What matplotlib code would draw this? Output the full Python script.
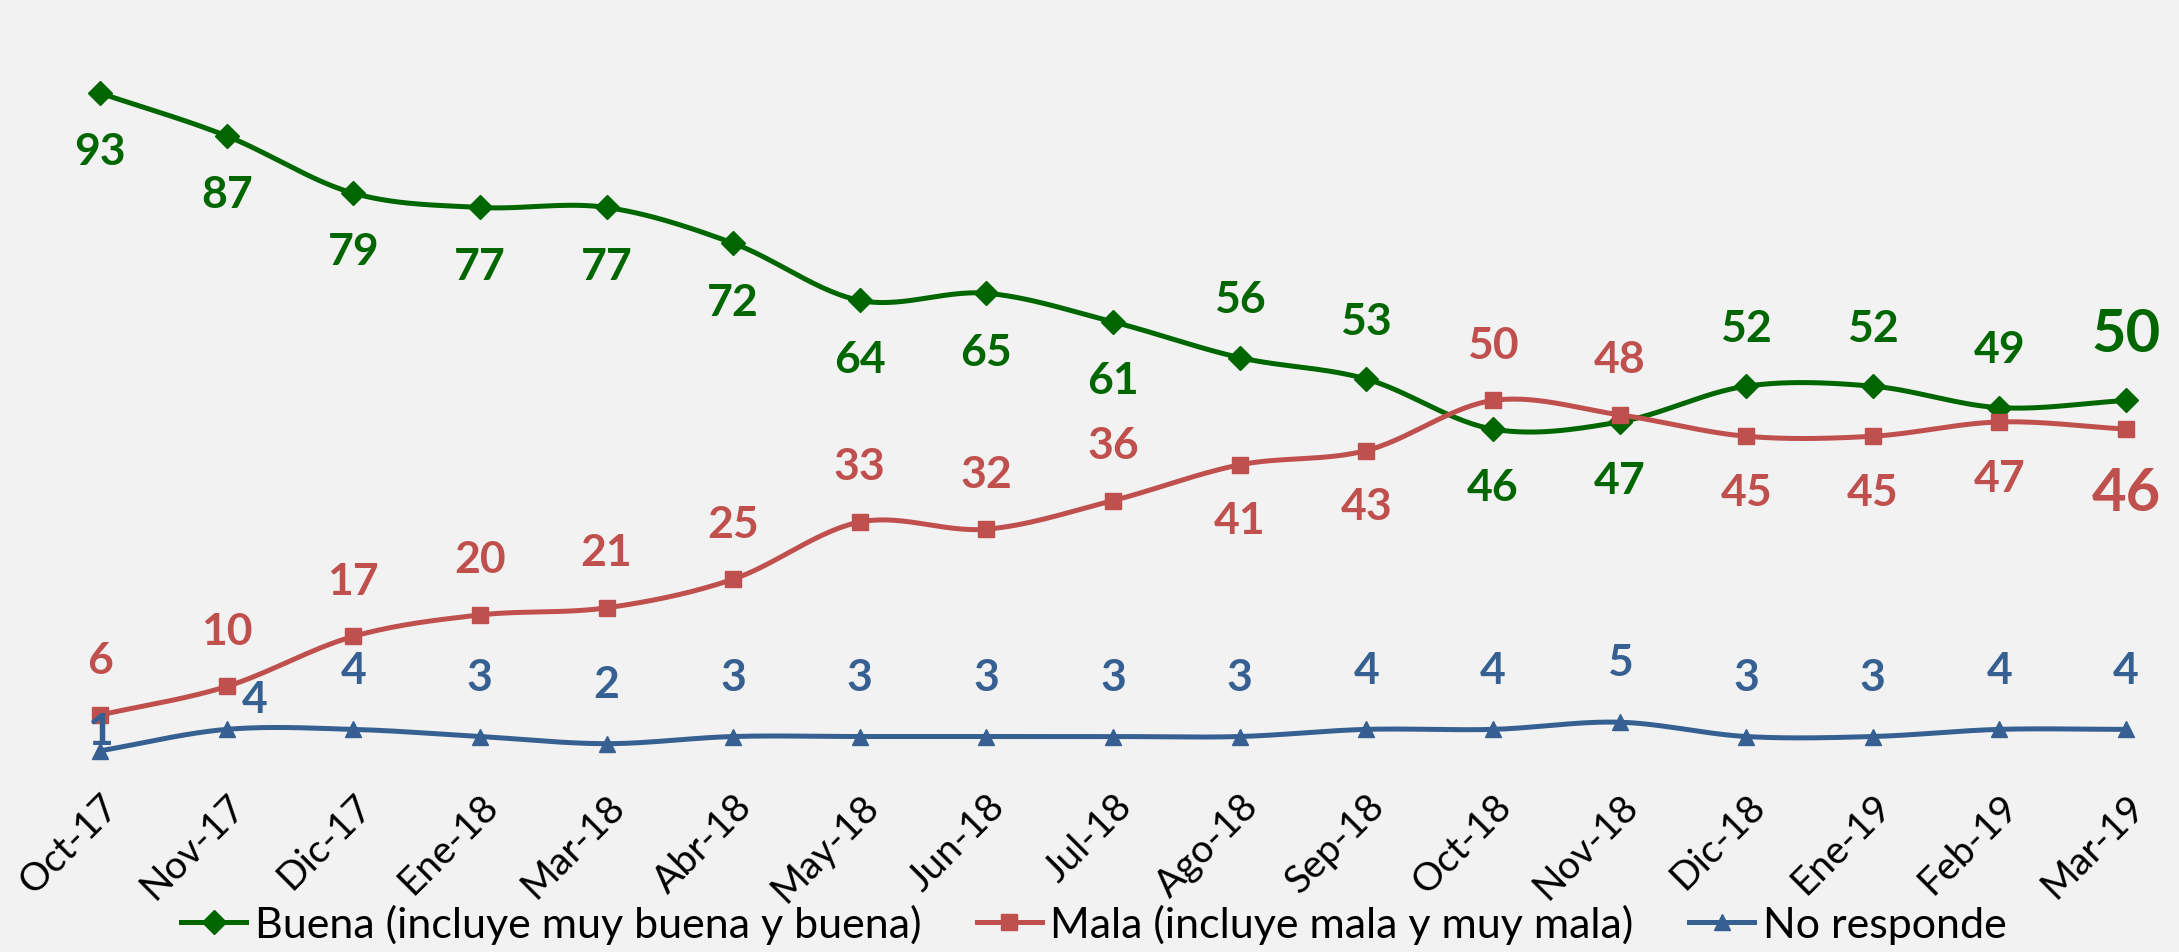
import numpy as np
import matplotlib.pyplot as plt
from matplotlib.lines import Line2D

###########################################################
# data

months = ['Oct-17', 'Nov-17', 'Dic-17', 'Ene-18', 'Mar-18', 'Abr-18', 'May-18',
          'Jun-18', 'Jul-18', 'Ago-18', 'Sep-18', 'Oct-18', 'Nov-18', 'Dic-18',
          'Ene-19', 'Feb-19', 'Mar-19']
buena = [93, 87, 79, 77, 77, 72, 64, 65, 61, 56, 53, 46, 47, 52, 52, 49, 50]
mala = [6, 10, 17, 20, 21, 25, 33, 32, 36, 41, 43, 50, 48, 45, 45, 47, 46]
no_resp = [1, 4, 4, 3, 2, 3, 3, 3, 3, 3, 4, 4, 5, 3, 3, 4, 4]

names = ['Buena (incluye muy buena y buena)',
         'Mala (incluye mala y muy mala)',
         'No responde']

###########################################################
# style

bg = '#F2F2F2'
c_buena = '#006600'
c_mala = '#C0504D'
c_nr = '#376092'

plt.rcParams['font.family'] = ['Lato', 'DejaVu Sans']

# label offsets in points (dx, dy)
off_buena = [(0, -42)]*9 + [(0, 42), (0, 42), (0, -42), (0, -42),
                            (0, 42), (0, 42), (0, 42), (0, 48)]
off_mala = [(0, 40)]*9 + [(0, -40), (0, -40), (0, 40), (0, 40),
                          (0, -40), (0, -40), (0, -40), (0, -46)]
off_nr = [(0, 14), (20, 22)] + [(0, 43)]*15
big = [False]*16 + [True]

###########################################################
# functions

def smooth(y, n=30):
    '''Catmull-Rom curve through the points, like Excel smoothed lines.'''
    y = np.asarray(y, float)
    p = np.concatenate([[2*y[0]-y[1]], y, [2*y[-1]-y[-2]]])
    xs, ys = [], []
    t = np.linspace(0, 1, n, endpoint=False)
    for i in range(len(y)-1):
        p0, p1, p2, p3 = p[i], p[i+1], p[i+2], p[i+3]
        yy = 0.5*((2*p1) + (-p0+p2)*t + (2*p0-5*p1+4*p2-p3)*t**2
                  + (-p0+3*p1-3*p2+p3)*t**3)
        xs.append(i + t)
        ys.append(yy)
    xs.append([len(y)-1])
    ys.append([y[-1]])
    return np.concatenate(xs), np.concatenate(ys)

###########################################################
# main program

fig = plt.figure(figsize=(21.79, 9.53), dpi=100, facecolor=bg)
ax = fig.add_axes([0.0459, 0.2036, 0.9298, 0.7502], facecolor=bg)
x = np.arange(len(months))

series = [(buena, c_buena, 'D', 12, off_buena, True),
          (mala, c_mala, 's', 12, off_mala, True),
          (no_resp, c_nr, '^', 12, off_nr, False)]

for vals, col, mk, ms, offs, grow in series:
    sx, sy = smooth(vals)
    ax.plot(sx, sy, color=col, lw=3.6, clip_on=False, zorder=2)
    ax.plot(x, vals, ls='none', marker=mk, ms=ms, color=col, clip_on=False,
            zorder=3)
    for i, (v, o) in enumerate(zip(vals, offs)):
        fs = 43 if (grow and big[i]) else 32
        ax.annotate(str(v), (i, v), xytext=o, textcoords='offset points',
                    ha='center', va='center', color=col, fontsize=fs,
                    fontweight='bold', zorder=4)

ax.set_xlim(0, 16)
ax.set_ylim(0, 100)
ax.set_yticks([])
ax.set_xticks(x)
ax.set_xticklabels(months, rotation=45, ha='right', va='top',
                   rotation_mode='anchor', fontsize=28)
ax.tick_params(axis='x', length=0, pad=21)
for s in ax.spines.values():
    s.set_visible(False)

handles = [Line2D([], [], color=c_buena, marker='D', ms=12, lw=3.6),
           Line2D([], [], color=c_mala, marker='s', ms=12, lw=3.6),
           Line2D([], [], color=c_nr, marker='^', ms=12, lw=3.6)]
fig.legend(handles, names, loc='center', bbox_to_anchor=(0.502, 0.029),
           ncol=3, frameon=False, fontsize=31, handlelength=1.5,
           handletextpad=0.2, columnspacing=1.3)

fig.savefig('out.png', dpi=100, facecolor=bg)
